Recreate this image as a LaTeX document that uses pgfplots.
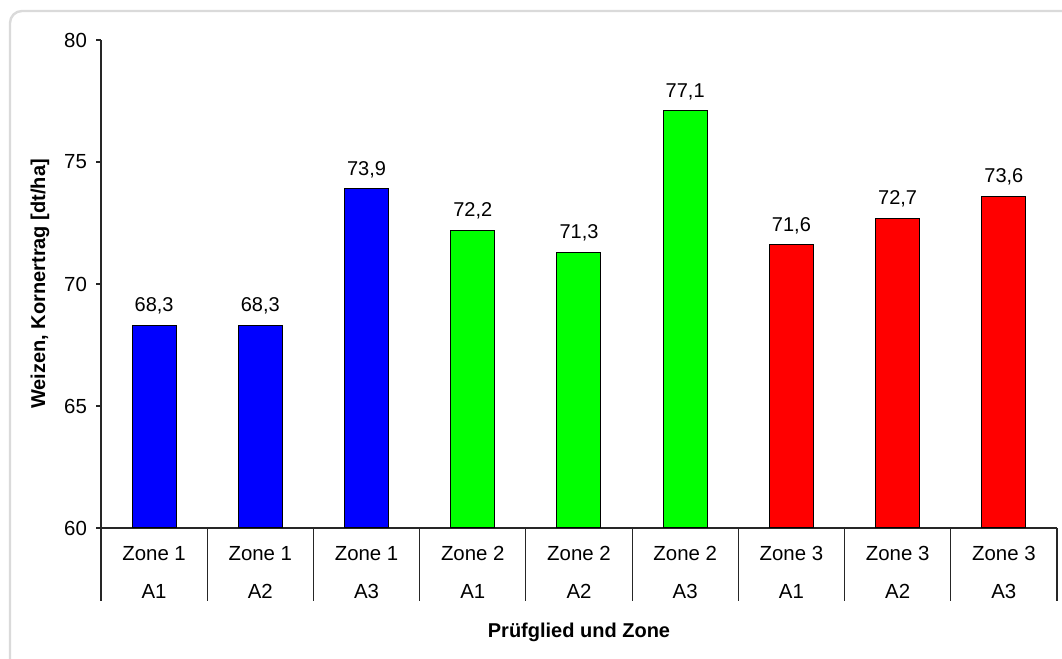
\documentclass[border=0pt]{standalone}
\usepackage{pgfplots}
\pgfplotsset{compat=1.18}
\usepackage{fontspec}
\setmainfont{Liberation Sans}

\definecolor{barblue}{RGB}{0,0,255}
\definecolor{bargreen}{RGB}{0,255,0}
\definecolor{barred}{RGB}{255,0,0}
\definecolor{framegray}{RGB}{218,218,218}

\begin{document}
\begin{tikzpicture}
\useasboundingbox (0,0) rectangle (531pt,329.5pt);
\begin{scope}
\clip (0,0) rectangle (531pt,329.5pt);
\draw[framegray, line width=1.2pt, rounded corners=6pt] (5pt,-20pt) rectangle (560pt,324pt);
\end{scope}

\begin{axis}[
	at={(50.5pt,65.5pt)}, anchor=south west,
	scale only axis,
	width=478pt, height=244pt,
	ybar,
	bar width=22pt,
	xmin=-0.5, xmax=8.5,
	ymin=60, ymax=80,
	ytick={60,65,70,75,80},
	axis x line=bottom,
	axis y line=left,
	axis line style={-, black!85, line width=0.6pt},
	x axis line style={shorten <=-2.5pt},
	xtick={0,...,8},
	major x tick style={draw=none},
	xticklabels={\strut Zone 1\\\strut A1,\strut Zone 1\\\strut A2,\strut Zone 1\\\strut A3,
		\strut Zone 2\\\strut A1,\strut Zone 2\\\strut A2,\strut Zone 2\\\strut A3,
		\strut Zone 3\\\strut A1,\strut Zone 3\\\strut A2,\strut Zone 3\\\strut A3},
	xticklabel style={align=center, anchor=center, yshift=-19.5pt, font=\fontsize{10.2}{19}\selectfont},
	ytick style={black!85, line width=0.6pt},
	tick align=outside,
	major tick length=2.5pt,
	yticklabel style={font=\fontsize{10.2}{12}\selectfont, xshift=-1pt},
	/pgf/number format/assume math mode=true,
	every axis y label/.style={at={(axis description cs:0,0.5)}, xshift=-30.5pt, rotate=90, anchor=center, font=\bfseries\fontsize{10}{12}\selectfont},
	every axis x label/.style={at={(axis description cs:0.5,0)}, yshift=-52pt, anchor=center, font=\bfseries\fontsize{10}{12}\selectfont},
	ylabel={Weizen, Kornertrag [dt/ha]},
	xlabel={Prüfglied und Zone},
	nodes near coords,
	nodes near coords style={font=\fontsize{10}{12}\selectfont, yshift=2pt,
		/pgf/number format/.cd, fixed, fixed zerofill, precision=1, use comma},
	clip=false,
]
\addplot[bar shift=0pt, fill=barblue, draw=black, line width=0.5pt] coordinates {(0,68.3) (1,68.3) (2,73.9)};
\addplot[bar shift=0pt, fill=bargreen, draw=black, line width=0.5pt] coordinates {(3,72.2) (4,71.3) (5,77.1)};
\addplot[bar shift=0pt, fill=barred, draw=black, line width=0.5pt] coordinates {(6,71.6) (7,72.7) (8,73.6)};
\pgfplotsinvokeforeach{-0.5,0.5,...,8.5}{
	\draw[black!85, line width=0.6pt] (axis cs:#1,60) -- ([yshift=-36.5pt]axis cs:#1,60);
}
\end{axis}
\end{tikzpicture}
\end{document}
